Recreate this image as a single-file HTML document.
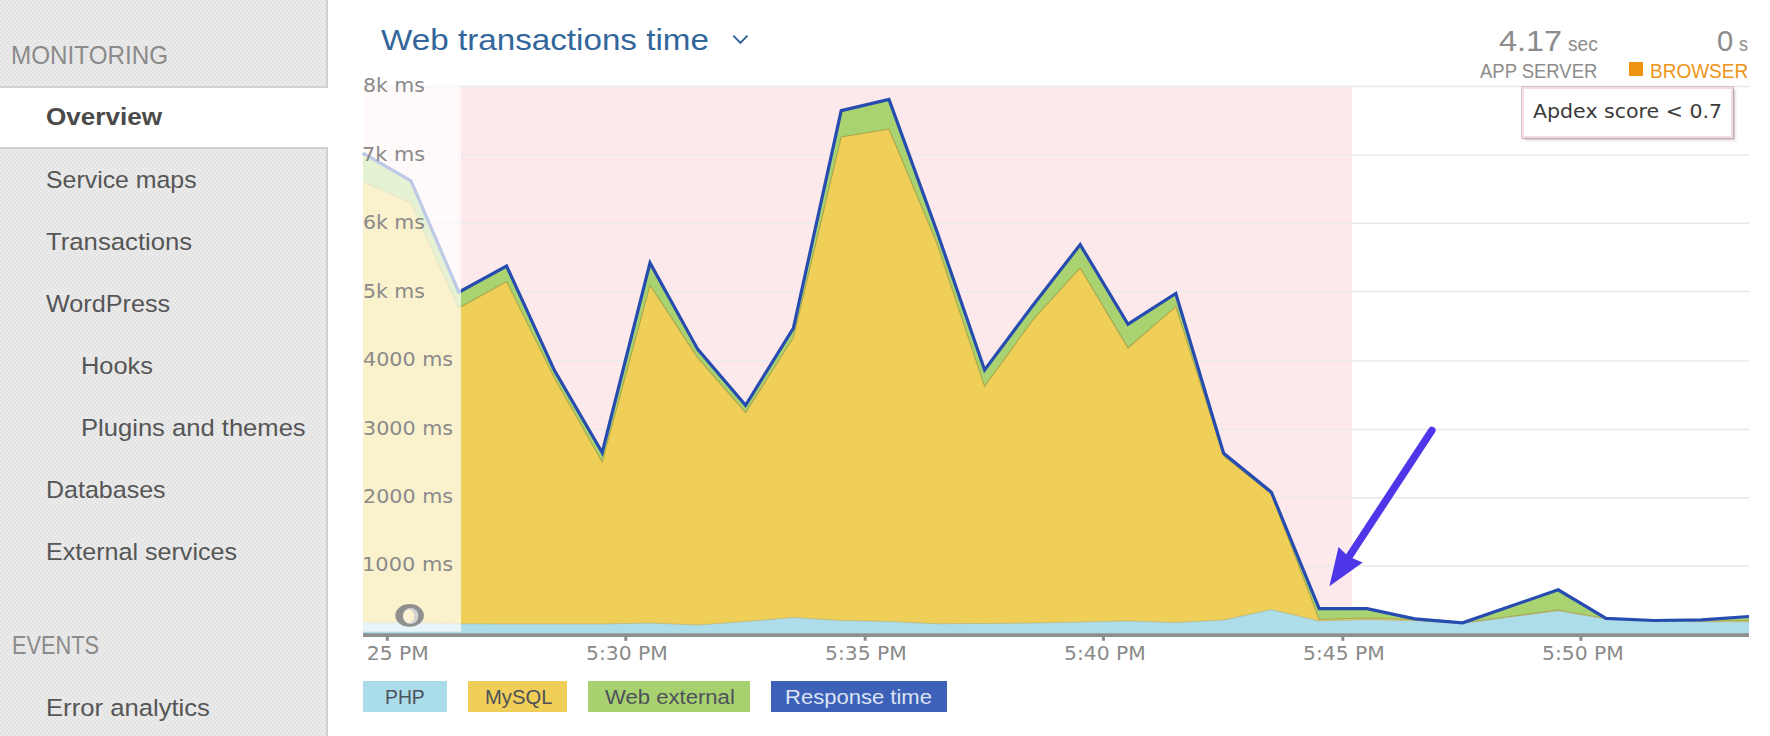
<!DOCTYPE html>
<html lang="en">
<head>
<meta charset="utf-8">
<title>Web transactions time</title>
<style>
html,body{margin:0;padding:0;background:#fff}
body{width:1770px;height:736px;position:relative;overflow:hidden;font-family:"Liberation Sans", sans-serif;}
.t{position:absolute;white-space:pre;line-height:1;font-family:"Liberation Sans", sans-serif;transform-origin:0 50%;text-decoration:none}
.sf{font-family:"DejaVu Sans", "Liberation Sans", sans-serif}
ul,li,h1,h3,p{margin:0;padding:0;list-style:none;font-weight:normal}
#sidebar{position:absolute;left:0;top:0;width:326px;height:736px;background-color:#ebebeb;border-right:2px solid #d1d1d1;box-sizing:content-box;
 background-image:radial-gradient(circle at 1px 1px,rgba(0,0,0,.035) .7px,transparent 1.1px),radial-gradient(circle at 1px 1px,rgba(0,0,0,.035) .7px,transparent 1.1px);background-size:4px 4px;background-position:0 0,2px 2px}
#sidebar .active-bg{position:absolute;left:0;top:86px;width:328px;height:58.6px;background:#fff;border-top:2px solid #d1d1d1;border-bottom:2px solid #d1d1d1}
#main{position:absolute;left:0;top:0;width:1770px;height:736px}
#chart{position:absolute;left:0;top:0}
.chev{position:absolute;left:731px;top:33px}
.sq{position:absolute;left:1629px;top:62.3px;width:14px;height:14px;background:#ef9411}
.lg{position:absolute;top:681.2px;height:30.8px}
.tip{position:absolute;left:1522px;top:86.5px;width:207px;height:47.2px;background:#fff;border:2px solid #f3dcdf;box-shadow:0 0 0 .7px #c6b2b7,1.4px 1.4px 1.2px rgba(110,88,94,.6),3px 3px 2px rgba(120,100,105,.18)}
.clipx{position:absolute;left:365.5px;top:640px;width:1400px;height:30px;overflow:hidden}
</style>
</head>
<body>
<nav id="sidebar">
<div class="active-bg"></div>
<h3><span class="t" style="left:11.4px;top:42.8px;font-size:25px;color:#8b8b8b;transform:scaleX(0.970);">MONITORING</span></h3>
<ul>
<li class="active"><a class="t" style="left:45.9px;top:105.3px;font-size:24.5px;color:#4a4a4a;font-weight:700;transform:scaleX(1.065);">Overview</a></li>
<li><a class="t" style="left:45.7px;top:167.5px;font-size:24.5px;color:#565656;transform:scaleX(1.015);">Service maps</a></li>
<li><a class="t" style="left:45.7px;top:229.6px;font-size:24.5px;color:#565656;transform:scaleX(1.049);">Transactions</a></li>
<li><a class="t" style="left:46.0px;top:291.7px;font-size:24.5px;color:#565656;transform:scaleX(1.029);">WordPress</a></li>
<li><a class="t" style="left:81.2px;top:353.7px;font-size:24.5px;color:#565656;transform:scaleX(1.036);">Hooks</a></li>
<li><a class="t" style="left:81.2px;top:415.6px;font-size:24.5px;color:#565656;transform:scaleX(1.044);">Plugins and themes</a></li>
<li><a class="t" style="left:46.0px;top:477.8px;font-size:24.5px;color:#565656;transform:scaleX(1.021);">Databases</a></li>
<li><a class="t" style="left:46.4px;top:539.9px;font-size:24.5px;color:#565656;transform:scaleX(1.024);">External services</a></li>
</ul>
<h3><span class="t" style="left:11.6px;top:633.3px;font-size:25px;color:#8b8b8b;transform:scaleX(0.871);">EVENTS</span></h3>
<ul>
<li><a class="t" style="left:46.3px;top:695.7px;font-size:24.5px;color:#565656;transform:scaleX(1.047);">Error analytics</a></li>
</ul>
</nav>
<section id="main">
<svg id="chart" width="1770" height="736" viewBox="0 0 1770 736">
<rect x="363" y="86.6" width="989" height="548.0" fill="#fde9eb"/>
<line x1="363" x2="1749" y1="86.6" y2="86.6" stroke="#e7e8e8" stroke-width="1.5"/>
<line x1="461" x2="1352" y1="86.6" y2="86.6" stroke="#eee9ea" stroke-width="1.5"/>
<line x1="363" x2="1749" y1="155.0" y2="155.0" stroke="#e7e8e8" stroke-width="1.5"/>
<line x1="461" x2="1352" y1="155.0" y2="155.0" stroke="#eee9ea" stroke-width="1.5"/>
<line x1="363" x2="1749" y1="223.3" y2="223.3" stroke="#e7e8e8" stroke-width="1.5"/>
<line x1="461" x2="1352" y1="223.3" y2="223.3" stroke="#eee9ea" stroke-width="1.5"/>
<line x1="363" x2="1749" y1="291.4" y2="291.4" stroke="#e7e8e8" stroke-width="1.5"/>
<line x1="461" x2="1352" y1="291.4" y2="291.4" stroke="#eee9ea" stroke-width="1.5"/>
<line x1="363" x2="1749" y1="361.0" y2="361.0" stroke="#e7e8e8" stroke-width="1.5"/>
<line x1="461" x2="1352" y1="361.0" y2="361.0" stroke="#eee9ea" stroke-width="1.5"/>
<line x1="363" x2="1749" y1="429.5" y2="429.5" stroke="#e7e8e8" stroke-width="1.5"/>
<line x1="461" x2="1352" y1="429.5" y2="429.5" stroke="#eee9ea" stroke-width="1.5"/>
<line x1="363" x2="1749" y1="497.8" y2="497.8" stroke="#e7e8e8" stroke-width="1.5"/>
<line x1="461" x2="1352" y1="497.8" y2="497.8" stroke="#eee9ea" stroke-width="1.5"/>
<line x1="363" x2="1749" y1="566.1" y2="566.1" stroke="#e7e8e8" stroke-width="1.5"/>
<line x1="461" x2="1352" y1="566.1" y2="566.1" stroke="#eee9ea" stroke-width="1.5"/>
<polygon points="363.0,634.6 363.0,153.1 411.0,180.8 458.8,292.2 506.6,266.1 554.4,370.3 602.2,452.5 650.0,262.9 697.8,349.4 745.6,405.3 793.4,328.1 841.2,110.6 889.0,99.4 936.8,231.0 984.6,369.9 1032.4,306.0 1080.2,244.6 1128.0,324.2 1175.8,293.5 1223.6,453.2 1271.4,492.2 1319.2,608.7 1367.0,608.7 1414.8,618.9 1462.6,622.8 1510.4,606.3 1558.2,589.8 1606.0,618.4 1653.8,620.5 1701.6,619.9 1749.0,616.5 1749.0,634.6" fill="#a9d271"/>
<polygon points="363.0,634.6 363.0,181.6 411.0,202.8 458.8,308.0 506.6,281.5 554.4,378.0 602.2,461.9 650.0,285.2 697.8,357.8 745.6,412.5 793.4,337.5 841.2,136.9 889.0,129.0 936.8,243.0 984.6,386.3 1032.4,320.5 1080.2,268.0 1128.0,347.9 1175.8,306.6 1223.6,456.0 1271.4,494.0 1319.2,619.5 1367.0,618.0 1414.8,619.5 1462.6,623.0 1510.4,616.5 1558.2,610.0 1606.0,618.8 1653.8,620.7 1701.6,621.3 1749.0,620.5 1749.0,634.6" fill="#efcf57"/>
<polyline points="363.0,181.6 411.0,202.8 458.8,308.0 506.6,281.5 554.4,378.0 602.2,461.9 650.0,285.2 697.8,357.8 745.6,412.5 793.4,337.5 841.2,136.9 889.0,129.0 936.8,243.0 984.6,386.3 1032.4,320.5 1080.2,268.0 1128.0,347.9 1175.8,306.6 1223.6,456.0 1271.4,494.0 1319.2,619.5 1367.0,618.0 1414.8,619.5 1462.6,623.0 1510.4,616.5 1558.2,610.0 1606.0,618.8 1653.8,620.7 1701.6,621.3 1749.0,620.5" fill="none" stroke="#a39c48" stroke-opacity=".8" stroke-width="1.1"/>
<polygon points="363.0,634.6 363.0,622.5 411.0,622.8 458.8,623.8 506.6,624.0 554.4,624.0 602.2,624.0 650.0,623.0 697.8,625.0 745.6,621.5 793.4,617.5 841.2,620.5 889.0,621.5 936.8,623.8 984.6,623.5 1032.4,623.0 1080.2,622.0 1128.0,621.0 1175.8,622.5 1223.6,620.0 1271.4,609.6 1319.2,621.0 1367.0,619.5 1414.8,620.7 1462.6,623.4 1510.4,617.0 1558.2,610.8 1606.0,619.0 1653.8,620.9 1701.6,621.8 1749.0,621.8 1749.0,634.6" fill="#addde9"/>
<polyline points="363.0,622.5 411.0,622.8 458.8,623.8 506.6,624.0 554.4,624.0 602.2,624.0 650.0,623.0 697.8,625.0 745.6,621.5 793.4,617.5 841.2,620.5 889.0,621.5 936.8,623.8 984.6,623.5 1032.4,623.0 1080.2,622.0 1128.0,621.0 1175.8,622.5 1223.6,620.0 1271.4,609.6 1319.2,621.0 1367.0,619.5 1414.8,620.7 1462.6,623.4 1510.4,617.0 1558.2,610.8 1606.0,619.0 1653.8,620.9 1701.6,621.8 1749.0,621.8" fill="none" stroke="#a9a67a" stroke-opacity=".5" stroke-width="1"/>
<polyline points="363.0,153.1 411.0,180.8 458.8,292.2 506.6,266.1 554.4,370.3 602.2,452.5 650.0,262.9 697.8,349.4 745.6,405.3 793.4,328.1 841.2,110.6 889.0,99.4 936.8,231.0 984.6,369.9 1032.4,306.0 1080.2,244.6 1128.0,324.2 1175.8,293.5 1223.6,453.2 1271.4,492.2 1319.2,608.7 1367.0,608.7 1414.8,618.9 1462.6,622.8 1510.4,606.3 1558.2,589.8 1606.0,618.4 1653.8,620.5 1701.6,619.9 1749.0,616.5" fill="none" stroke="#264cb0" stroke-width="3.2" stroke-linejoin="miter" stroke-miterlimit="6"/>
<rect x="363" y="86" width="98" height="545.7" fill="#ffffff" fill-opacity=".7"/>
<rect x="363" y="633.3" width="1386" height="3.7" fill="#8e8e8e"/>
<rect x="385.8" y="636" width="3" height="4.8" fill="#8e8e8e"/>
<rect x="624.3" y="636" width="3" height="4.8" fill="#8e8e8e"/>
<rect x="863.7" y="636" width="3" height="4.8" fill="#8e8e8e"/>
<rect x="1101.9" y="636" width="3" height="4.8" fill="#8e8e8e"/>
<rect x="1341.3" y="636" width="3" height="4.8" fill="#8e8e8e"/>
<rect x="1579.4" y="636" width="3" height="4.8" fill="#8e8e8e"/>
<ellipse cx="409.6" cy="615.4" rx="14.3" ry="11.3" fill="#8f8f8f"/>
<ellipse cx="410.6" cy="616" rx="7.8" ry="8.1" fill="#d2d2d2"/>
<ellipse cx="408.8" cy="616.2" rx="5.5" ry="6.7" fill="#fbf1d3"/>
<line x1="1431.8" y1="430.5" x2="1348.5" y2="557.5" stroke="#4f36e8" stroke-width="7.5" stroke-linecap="round"/>
<polygon points="1329.4,586.3 1338.5,546.9 1348.5,556.5 1362.7,562.6" fill="#4f36e8"/>
</svg>
<h1><span class="t" style="left:381.4px;top:25.3px;font-size:30px;color:#33669a;transform:scaleX(1.107);">Web transactions time</span></h1>
<svg class="chev" width="20" height="14" viewBox="0 0 20 14"><polyline points="2.3,2.6 9.4,9.8 16.5,2.6" fill="none" stroke="#2f6398" stroke-width="1.9"/></svg>
<div class="stats">
<span class="t" style="left:1499.3px;top:25.9px;font-size:30px;color:#8c8c8c;transform:scaleX(1.079);">4.17</span><span class="t" style="left:1567.5px;top:33.9px;font-size:20px;color:#8c8c8c;transform:scaleX(0.962);">sec</span><span class="t" style="left:1479.7px;top:60.9px;font-size:20px;color:#8c8c8c;transform:scaleX(0.923);">APP SERVER</span>
<span class="t" style="left:1716.7px;top:25.9px;font-size:30px;color:#8c8c8c;transform:scaleX(0.973);">0</span><span class="t" style="left:1739.1px;top:33.9px;font-size:20px;color:#8c8c8c;transform:scaleX(0.900);">s</span><i class="sq"></i><span class="t" style="left:1650.1px;top:60.9px;font-size:20px;color:#ee9417;transform:scaleX(0.950);">BROWSER</span>
</div>
<div class="ylabels">
<span class="t sf" style="left:363.3px;top:76.4px;font-size:19.8px;color:#8a8a8a;transform:scaleX(1.034);">8k ms</span><span class="t sf" style="left:362.2px;top:144.8px;font-size:19.8px;color:#8a8a8a;transform:scaleX(1.053);">7k ms</span><span class="t sf" style="left:363.3px;top:213.2px;font-size:19.8px;color:#8a8a8a;transform:scaleX(1.034);">6k ms</span><span class="t sf" style="left:363.3px;top:281.7px;font-size:19.8px;color:#8a8a8a;transform:scaleX(1.034);">5k ms</span><span class="t sf" style="left:363.3px;top:350.1px;font-size:19.8px;color:#8a8a8a;transform:scaleX(1.045);">4000 ms</span><span class="t sf" style="left:363.3px;top:418.5px;font-size:19.8px;color:#8a8a8a;transform:scaleX(1.045);">3000 ms</span><span class="t sf" style="left:363.3px;top:486.9px;font-size:19.8px;color:#8a8a8a;transform:scaleX(1.045);">2000 ms</span><span class="t sf" style="left:362.2px;top:555.3px;font-size:19.8px;color:#8a8a8a;transform:scaleX(1.058);">1000 ms</span>
</div>
<div class="clipx">
<span class="t sf" style="left:-18.5px;top:4.0px;font-size:19.8px;color:#8a8a8a;transform:scaleX(1.026);">5:25 PM</span><span class="t sf" style="left:220.3px;top:4.0px;font-size:19.8px;color:#8a8a8a;transform:scaleX(1.026);">5:30 PM</span><span class="t sf" style="left:459.2px;top:4.0px;font-size:19.8px;color:#8a8a8a;transform:scaleX(1.026);">5:35 PM</span><span class="t sf" style="left:698.2px;top:4.0px;font-size:19.8px;color:#8a8a8a;transform:scaleX(1.026);">5:40 PM</span><span class="t sf" style="left:937.2px;top:4.0px;font-size:19.8px;color:#8a8a8a;transform:scaleX(1.026);">5:45 PM</span><span class="t sf" style="left:1176.0px;top:4.0px;font-size:19.8px;color:#8a8a8a;transform:scaleX(1.026);">5:50 PM</span>
</div>
<div class="tip"></div>
<span class="t sf" style="left:1532.8px;top:102.4px;font-size:19.8px;color:#3a3a3a;transform:scaleX(1.038);">Apdex score &lt; 0.7</span>
<div class="legend">
<div class="lg" style="left:363.1px;width:83.8px;background:#abdcea"></div>
<div class="lg" style="left:468.2px;width:98.7px;background:#efcf57"></div>
<div class="lg" style="left:588.1px;width:161.8px;background:#a8d26f"></div>
<div class="lg" style="left:771.1px;width:175.6px;background:#3d60b9"></div>
<span class="t" style="left:384.8px;top:686.8px;font-size:20px;color:#4e515b;transform:scaleX(0.966);">PHP</span>
<span class="t" style="left:484.5px;top:686.8px;font-size:20px;color:#4e515b;transform:scaleX(1.011);">MySQL</span>
<span class="t" style="left:605.0px;top:686.8px;font-size:20px;color:#4e515b;transform:scaleX(1.105);">Web external</span>
<span class="t" style="left:785.2px;top:686.8px;font-size:20px;color:#dde4f3;transform:scaleX(1.101);">Response time</span>
</div>
</section>
</body>
</html>
